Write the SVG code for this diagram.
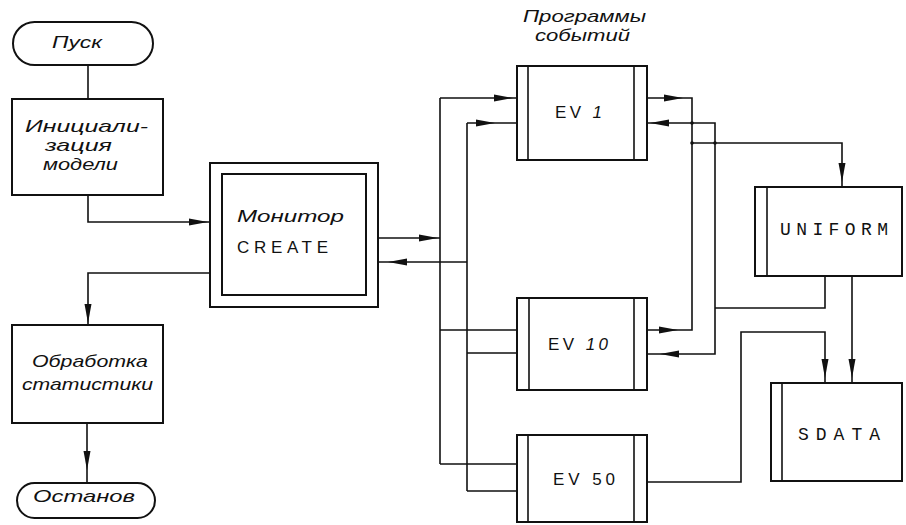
<svg xmlns="http://www.w3.org/2000/svg" xmlns:xlink="http://www.w3.org/1999/xlink" width="906" height="525" viewBox="0 0 906 525">
<style>
.box{fill:#fff;stroke:#111;stroke-width:2}
.in{fill:none;stroke:#111;stroke-width:1.6}
.ln{fill:none;stroke:#111;stroke-width:1.6}
.it{font-family:"Liberation Sans",Arial,sans-serif;font-style:italic;font-size:17px;fill:#111}
.up{font-family:"Liberation Sans",Arial,sans-serif;font-size:17px;fill:#111}
.mono{font-family:"Liberation Mono","Courier New",monospace;font-size:18px;fill:#111}
.ah{fill:#111}
</style>
<defs>
<path id="ah" class="ah" d="M0,0 L-19,-3.5 L-19,3.5 Z"/>
</defs>
<rect width="906" height="525" fill="#fff"/>

<g id="connectors">
<path class="ln" d="M88,65 V99"/>
<path class="ln" d="M88,195 V222 H210"/>
<path class="ln" d="M210,273 H88 V325"/>
<path class="ln" d="M87,423 V483"/>
<path class="ln" d="M378,238 H440"/>
<path class="ln" d="M467,262 H378"/>
<path class="ln" d="M440,98 V464"/>
<path class="ln" d="M440,98 H517 M440,330 H517 M440,464 H517"/>
<path class="ln" d="M467,123 V491"/>
<path class="ln" d="M467,123 H517 M467,353 H517 M467,491 H517"/>
<path class="ln" d="M647,98 H692 V330 H647"/>
<path class="ln" d="M692,143 H842 V187"/>
<path class="ln" d="M647,123 H715 V354 H647"/>
<path class="ln" d="M715,308 H825 V276"/>
<path class="ln" d="M852,276 V383"/>
<path class="ln" d="M647,482 H741 V332 H825 V383"/>
<circle cx="692" cy="143" r="1.8" fill="#111"/>
<circle cx="715" cy="143" r="1.8" fill="#111"/>
<circle cx="692" cy="123" r="1.8" fill="#111"/>
<use xlink:href="#ah" transform="translate(208,222)"/>
<use xlink:href="#ah" transform="translate(438,238)"/>
<use xlink:href="#ah" transform="translate(388,262) rotate(180)"/>
<use xlink:href="#ah" transform="translate(88,323) rotate(90)"/>
<use xlink:href="#ah" transform="translate(87,470) rotate(90)"/>
<use xlink:href="#ah" transform="translate(513,98)"/>
<use xlink:href="#ah" transform="translate(495,123)"/>
<use xlink:href="#ah" transform="translate(683,98)"/>
<use xlink:href="#ah" transform="translate(650,123) rotate(180)"/>
<use xlink:href="#ah" transform="translate(678,330)"/>
<use xlink:href="#ah" transform="translate(660,354) rotate(180)"/>
<use xlink:href="#ah" transform="translate(842,182) rotate(90)"/>
<use xlink:href="#ah" transform="translate(825,378) rotate(90)"/>
<use xlink:href="#ah" transform="translate(852,378) rotate(90)"/>
</g>

<g id="start">
<rect class="box" x="13" y="22" width="140" height="43" rx="21.5"/>
<text class="it" x="52" y="48" textLength="50" lengthAdjust="spacingAndGlyphs">Пуск</text>
</g>

<g id="init">
<rect class="box" x="12" y="99" width="151" height="96"/>
<text class="it" x="25" y="132" textLength="123" lengthAdjust="spacingAndGlyphs">Инициали-</text>
<text class="it" x="45" y="151" textLength="67" lengthAdjust="spacingAndGlyphs">зация</text>
<text class="it" x="43" y="170" textLength="75" lengthAdjust="spacingAndGlyphs">модели</text>
</g>

<g id="monitor">
<rect class="box" x="210" y="163" width="168" height="144"/>
<rect class="box" x="222" y="174" width="144" height="121"/>
<text class="it" x="237" y="222" textLength="107" lengthAdjust="spacingAndGlyphs">Монитор</text>
<text class="up" x="237" y="253" textLength="91" lengthAdjust="spacing">CREATE</text>
</g>

<g id="stats">
<rect class="box" x="12" y="325" width="151" height="98"/>
<text class="it" x="32" y="367" textLength="116" lengthAdjust="spacingAndGlyphs">Обработка</text>
<text class="it" x="22" y="390" textLength="131" lengthAdjust="spacingAndGlyphs">статистики</text>
</g>

<g id="stop">
<rect class="box" x="17" y="483" width="138" height="35" rx="17.5"/>
<text class="it" x="33" y="502" textLength="102" lengthAdjust="spacingAndGlyphs">Останов</text>
</g>

<g id="events-title">
<text class="it" x="523" y="22" font-size="14" textLength="123" lengthAdjust="spacingAndGlyphs">Программы</text>
<text class="it" x="535" y="41" font-size="14" textLength="95" lengthAdjust="spacingAndGlyphs">событий</text>
</g>

<g id="ev1">
<rect class="box" x="517" y="66" width="130" height="94"/>
<path class="in" d="M528,66 V160 M634,66 V160"/>
<text class="up" x="555" y="118" textLength="47" lengthAdjust="spacing">EV <tspan font-style="italic">1</tspan></text>
</g>

<g id="ev10">
<rect class="box" x="517" y="298" width="130" height="92"/>
<path class="in" d="M529,298 V390 M634,298 V390"/>
<text class="up" x="548" y="350" textLength="60" lengthAdjust="spacing">EV <tspan font-style="italic">10</tspan></text>
</g>

<g id="ev50">
<rect class="box" x="517" y="435" width="130" height="87"/>
<path class="in" d="M528,435 V522 M634,435 V522"/>
<text class="up" x="553" y="485" textLength="62" lengthAdjust="spacing">EV 50</text>
</g>

<g id="uniform">
<rect class="box" x="755" y="187" width="147" height="89"/>
<path class="in" d="M767,187 V276"/>
<text class="mono" x="780" y="235" textLength="108" lengthAdjust="spacing">UNIFORM</text>
</g>

<g id="sdata">
<rect class="box" x="771" y="383" width="131" height="98"/>
<path class="in" d="M782,383 V481"/>
<text class="mono" x="798" y="440" textLength="82" lengthAdjust="spacing">SDATA</text>
</g>
</svg>
